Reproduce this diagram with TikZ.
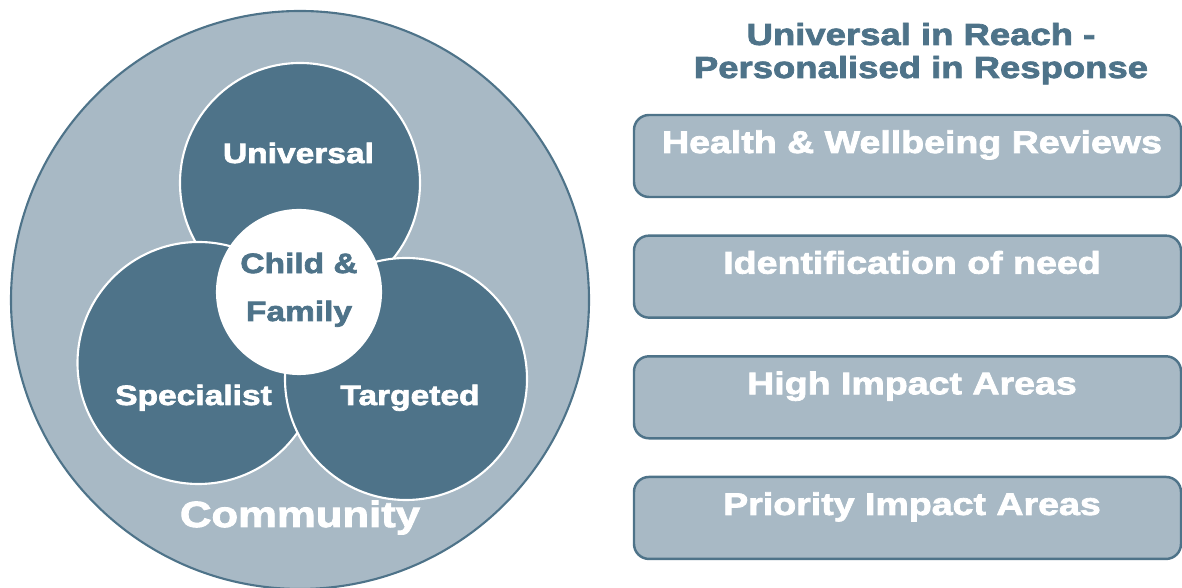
\documentclass[tikz,border=0pt]{standalone}
\usepackage{fontspec}
\newfontfamily\diagfont{Liberation Sans}[FakeStretch=1.2,FakeBold=2.5]
\definecolor{slate}{HTML}{4E7389}
\definecolor{mist}{HTML}{A8B9C5}
\tikzset{
	ring/.style={circle,fill=slate,draw=white,line width=1.2pt,inner sep=0pt,minimum size=#1},
	ringtext/.style={text=white,anchor=base,font=\diagfont\bfseries\fontsize{15.9}{19}\selectfont},
	panel/.style={draw=slate,fill=mist,line width=1.4pt,rounded corners=0.3cm,inner sep=0pt,
		minimum width=10.94cm,text height=0.76cm,text depth=0.88cm,text=white,
		font=\diagfont\bfseries\fontsize{17.8}{21}\selectfont}
}
\begin{document}
\begin{tikzpicture}
	\useasboundingbox (0,0) rectangle (23.64,11.76);
	\node[ring=11.56cm,fill=mist,draw=slate] (community) at (6,5.76) {};
	\node[ring=4.8cm] (universal) at (6,8.1) {};
	\node[ring=4.84cm] (specialist) at (3.97,4.5) {};
	\node[ring=4.84cm] (targeted) at (8.12,4.18) {};
	\node[ring=3.28cm,fill=white] (child) at (5.98,5.92) {};
	\node[ringtext] (universaltext) at (5.97,8.5) {Universal};
	\node[ringtext] (specialisttext) at (3.87,3.66) {Specialist};
	\node[ringtext] (targetedtext) at (8.2,3.66) {Targeted};
	\node[ringtext,text=slate,align=center,font=\diagfont\bfseries\fontsize{15.9}{27.3}\selectfont] (childtext) at (5.98,5.34) {Child \&\\Family};
	\node[ringtext,font=\diagfont\bfseries\fontsize{20.7}{24}\selectfont] (communitytext) at (6,1.22) {Community};
	\node[anchor=base,align=center,text=slate,font=\diagfont\bfseries\fontsize{17.3}{18.8}\selectfont] (title) at (18.42,10.2) {Universal in Reach -\\Personalised in Response};
	\foreach \txt [count=\i] in {Health \& Wellbeing Reviews,Identification of need,High Impact Areas,Priority Impact Areas}{
		\node[panel] (panel\i) at (18.15,{8.64-2.413*(\i-1)}) {\hspace*{0.18cm}\txt};
	}
\end{tikzpicture}
\end{document}
